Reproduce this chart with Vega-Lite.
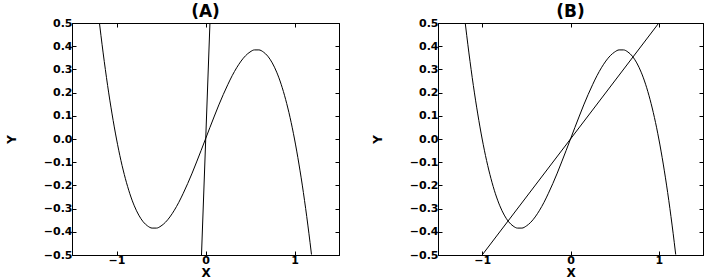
{
  "$schema": "https://vega.github.io/schema/vega-lite/v6.json",
  "background": "white",
  "padding": {"left": 4, "top": 2, "right": 4, "bottom": 0},
  "datasets": {
    "curve": [
      {"x": -1.191, "y": 0.498}, {"x": -1.175, "y": 0.447}, {"x": -1.15, "y": 0.371}, {"x": -1.125, "y": 0.299},
      {"x": -1.1, "y": 0.231}, {"x": -1.05, "y": 0.108}, {"x": -1.0, "y": 0.0}, {"x": -0.95, "y": -0.093},
      {"x": -0.9, "y": -0.171}, {"x": -0.85, "y": -0.236}, {"x": -0.8, "y": -0.288}, {"x": -0.75, "y": -0.328},
      {"x": -0.7, "y": -0.357}, {"x": -0.65, "y": -0.375}, {"x": -0.6, "y": -0.384}, {"x": -0.55, "y": -0.384},
      {"x": -0.5, "y": -0.375}, {"x": -0.45, "y": -0.359}, {"x": -0.4, "y": -0.336}, {"x": -0.35, "y": -0.307},
      {"x": -0.3, "y": -0.273}, {"x": -0.25, "y": -0.234}, {"x": -0.2, "y": -0.192}, {"x": -0.15, "y": -0.147},
      {"x": -0.1, "y": -0.099}, {"x": -0.05, "y": -0.05}, {"x": 0.0, "y": 0.0}, {"x": 0.05, "y": 0.05},
      {"x": 0.1, "y": 0.099}, {"x": 0.15, "y": 0.147}, {"x": 0.2, "y": 0.192}, {"x": 0.25, "y": 0.234},
      {"x": 0.3, "y": 0.273}, {"x": 0.35, "y": 0.307}, {"x": 0.4, "y": 0.336}, {"x": 0.45, "y": 0.359},
      {"x": 0.5, "y": 0.375}, {"x": 0.55, "y": 0.384}, {"x": 0.6, "y": 0.384}, {"x": 0.65, "y": 0.375},
      {"x": 0.7, "y": 0.357}, {"x": 0.75, "y": 0.328}, {"x": 0.8, "y": 0.288}, {"x": 0.85, "y": 0.236},
      {"x": 0.9, "y": 0.171}, {"x": 0.95, "y": 0.093}, {"x": 1.0, "y": 0.0}, {"x": 1.05, "y": -0.108},
      {"x": 1.1, "y": -0.231}, {"x": 1.125, "y": -0.299}, {"x": 1.15, "y": -0.371}, {"x": 1.175, "y": -0.447},
      {"x": 1.191, "y": -0.498}
    ],
    "lineA": [{"x": -0.045, "y": -0.5}, {"x": 0.05, "y": 0.5}],
    "lineB": [{"x": -1.0, "y": -0.5}, {"x": 1.0, "y": 0.5}]
  },
  "spacing": 30,
  "hconcat": [
    {
      "title": {"text": "(A)"},
      "width": 267,
      "height": 232,
      "layer": [
        {
          "data": {"name": "curve"},
          "mark": {"type": "line", "color": "black", "strokeWidth": 1, "interpolate": "monotone", "clip": true},
          "encoding": {
            "x": {"field": "x", "type": "quantitative", "scale": {"domain": [-1.5, 1.5], "nice": false, "zero": false},
                  "axis": {"orient": "bottom", "title": "X", "values": [-1, 0, 1]}},
            "y": {"field": "y", "type": "quantitative", "scale": {"domain": [-0.5, 0.5], "nice": false, "zero": false},
                  "axis": {"orient": "left", "title": "Y", "values": [-0.5, -0.4, -0.3, -0.2, -0.1, 0, 0.1, 0.2, 0.3, 0.4, 0.5]}}
          }
        },
        {
          "data": {"name": "lineA"},
          "mark": {"type": "line", "color": "black", "strokeWidth": 1, "clip": true},
          "encoding": {
            "x": {"field": "x", "type": "quantitative", "axis": {"orient": "top", "title": null, "labels": false, "values": [-1, 0, 1]}},
            "y": {"field": "y", "type": "quantitative", "axis": {"orient": "right", "title": null, "labels": false, "values": [-0.5, -0.4, -0.3, -0.2, -0.1, 0, 0.1, 0.2, 0.3, 0.4, 0.5]}}
          }
        }
      ],
      "resolve": {"axis": {"x": "independent", "y": "independent"}}
    },
    {
      "title": {"text": "(B)"},
      "width": 265,
      "height": 232,
      "layer": [
        {
          "data": {"name": "curve"},
          "mark": {"type": "line", "color": "black", "strokeWidth": 1, "interpolate": "monotone", "clip": true},
          "encoding": {
            "x": {"field": "x", "type": "quantitative", "scale": {"domain": [-1.5, 1.5], "nice": false, "zero": false},
                  "axis": {"orient": "bottom", "title": "X", "values": [-1, 0, 1]}},
            "y": {"field": "y", "type": "quantitative", "scale": {"domain": [-0.5, 0.5], "nice": false, "zero": false},
                  "axis": {"orient": "left", "title": "Y", "values": [-0.5, -0.4, -0.3, -0.2, -0.1, 0, 0.1, 0.2, 0.3, 0.4, 0.5]}}
          }
        },
        {
          "data": {"name": "lineB"},
          "mark": {"type": "line", "color": "black", "strokeWidth": 1, "clip": true},
          "encoding": {
            "x": {"field": "x", "type": "quantitative", "axis": {"orient": "top", "title": null, "labels": false, "values": [-1, 0, 1]}},
            "y": {"field": "y", "type": "quantitative", "axis": {"orient": "right", "title": null, "labels": false, "values": [-0.5, -0.4, -0.3, -0.2, -0.1, 0, 0.1, 0.2, 0.3, 0.4, 0.5]}}
          }
        }
      ],
      "resolve": {"axis": {"x": "independent", "y": "independent"}}
    }
  ],
  "config": {
    "view": {"stroke": "black", "strokeWidth": 1},
    "title": {"font": "DejaVu Sans", "fontSize": 17, "fontWeight": "bold", "color": "black", "offset": -4, "anchor": "middle"},
    "axis": {
      "grid": false,
      "domain": true,
      "domainColor": "black",
      "tickColor": "black",
      "tickSize": -4,
      "labelFont": "DejaVu Sans",
      "labelFontSize": 11,
      "labelFontWeight": "bold",
      "labelColor": "black",
      "labelPadding": 4,
      "titleFont": "DejaVu Sans",
      "titleFontSize": 12,
      "titleFontWeight": "bold",
      "titleColor": "black"
    },
    "axisX": {"titlePadding": 2, "labelPadding": 3},
    "axisY": {"titlePadding": 25}
  }
}
